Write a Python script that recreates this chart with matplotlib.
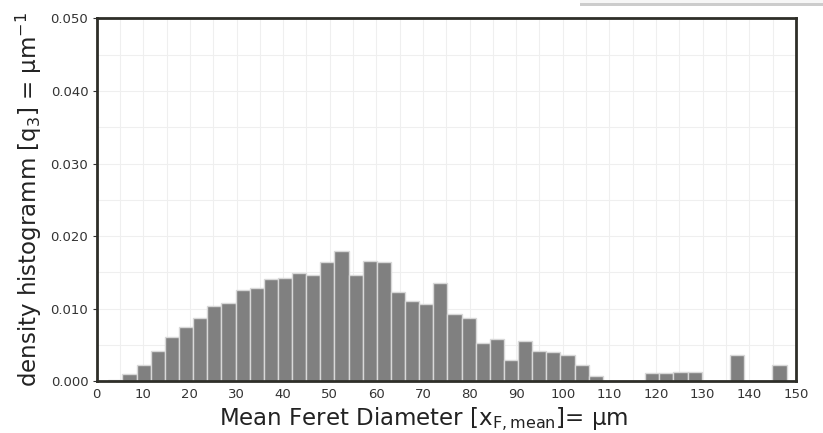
import numpy as np
import matplotlib
matplotlib.use("Agg")
import matplotlib.pyplot as plt
from matplotlib.patches import Rectangle
from matplotlib.ticker import MultipleLocator

# histogram data: 48 bins between ~2.5 and ~148 um
bin_edges = np.linspace(2.5, 148.0, 49)
density = [
    0.0002, 0.0010, 0.0023, 0.0042, 0.0061, 0.0075, 0.0088, 0.0104,
    0.0108, 0.0126, 0.0128, 0.0141, 0.0143, 0.0149, 0.0146, 0.0165,
    0.0180, 0.0146, 0.0166, 0.0165, 0.0123, 0.0111, 0.0106, 0.0136,
    0.0093, 0.0088, 0.0053, 0.0059, 0.0029, 0.0056, 0.0042, 0.0040,
    0.0036, 0.0023, 0.0008, 0.0, 0.0, 0.0, 0.0011, 0.0012,
    0.0013, 0.0013, 0.0, 0.0, 0.0037, 0.0, 0.0, 0.0022,
]
x_ticks = list(range(0, 151, 10))
y_ticks = [0.0, 0.01, 0.02, 0.03, 0.04, 0.05]

plt.rcParams['mathtext.default'] = 'regular'
plt.rcParams['font.family'] = ['DejaVu Sans']

fig = plt.figure(figsize=(8.23, 4.33), dpi=100)
ax = fig.add_axes([0.1175, 0.119, 0.8495, 0.839])

widths = np.diff(bin_edges)
ax.bar(bin_edges[:-1], density, width=widths, align='edge',
       color='#808080', edgecolor='#d8d8d8', linewidth=1.0, zorder=2)

ax.set_xlim(0, 150)
ax.set_ylim(0, 0.05)
ax.set_xticks(x_ticks)
ax.set_yticks(y_ticks)
ax.set_yticklabels([f"{v:.3f}" for v in y_ticks])
ax.xaxis.set_minor_locator(MultipleLocator(5))
ax.yaxis.set_minor_locator(MultipleLocator(0.005))
ax.grid(True, which='both', color='#efefef', linewidth=0.8, zorder=0)
ax.set_axisbelow(True)

ax.tick_params(axis='x', which='both', length=0, pad=5, labelsize=9.5, colors='#333333')
ax.tick_params(axis='y', which='major', length=3, width=0.8, pad=3, labelsize=9.5,
               colors='#333333')
ax.tick_params(axis='y', which='minor', length=0)

for s in ax.spines.values():
    s.set_color('#2e2e28')
    s.set_linewidth(2.0)

ax.set_xlabel("Mean Feret Diameter [x$_{F,mean}$]= µm", fontsize=16.5, color='#222222',
              labelpad=3)
ax.xaxis.label.set_x(0.468)
ax.set_ylabel("density histogramm [q$_3$] = µm$^{-1}$", fontsize=16.5, color='#222222',
              labelpad=5)

# bottom edge of a cut-off box at the top right
fig.patches.append(Rectangle((0.705, 0.985), 0.3, 0.015, transform=fig.transFigure,
                             facecolor='#f6f6f6', edgecolor='none', zorder=5))
fig.patches.append(Rectangle((0.705, 0.985), 0.3, 0.008, transform=fig.transFigure,
                             facecolor='#b0b0b0', edgecolor='none', alpha=0.6, zorder=6))

fig.savefig("out.png", dpi=100)
